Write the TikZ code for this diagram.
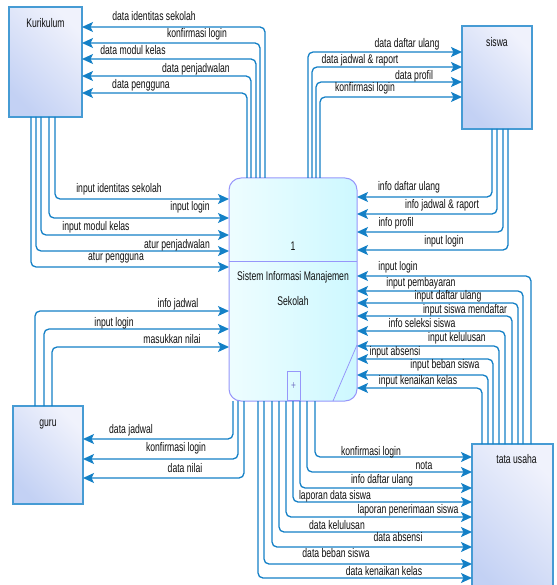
\documentclass[tikz,border=0pt]{standalone}
\usepackage{fontspec}
\setmainfont{Liberation Sans}[FakeStretch=0.69]
\usetikzlibrary{calc,arrows.meta}

\definecolor{flowblue}{RGB}{20,128,198}
\definecolor{entline}{RGB}{70,155,212}
\definecolor{entdark}{RGB}{195,209,244}
\definecolor{entlight}{RGB}{240,242,252}
\definecolor{procline}{RGB}{150,150,250}
\definecolor{proclight}{RGB}{238,253,255}
\definecolor{procdark}{RGB}{205,248,255}
\definecolor{txt}{RGB}{15,15,15}

\begin{document}
\begin{tikzpicture}[x=1pt,y=-1pt,
  entity/.style={rectangle, draw=entline, line width=1.3pt, inner sep=0pt, outer sep=0pt,
    top color=entdark, bottom color=entlight, shading angle=135},
  process/.style={rectangle, rounded corners=12pt, draw=procline, line width=1pt,
    inner sep=0pt, outer sep=0pt, left color=proclight, right color=procdark},
  flow/.style={draw=flowblue, line width=1.3pt, rounded corners=5pt,
    -{Stealth[length=11pt,width=10pt,inset=2.5pt]}},
  lbl/.style={inner sep=0pt, text=txt, font=\fontsize{12.5pt}{13pt}\selectfont,
    text height=9pt, text depth=2pt},
  ttl/.style={lbl}]

\useasboundingbox (0,0) rectangle (556,585);
\clip (0,0) rectangle (556,585);

% external entities
\node[entity, minimum width=73pt, minimum height=110pt] (kur) at (45.5,62) {};
\node[entity, minimum width=70pt, minimum height=103pt] (siswa) at (497,77.5) {};
\node[entity, minimum width=70pt, minimum height=98pt] (guru) at (48,455) {};
\node[entity, minimum width=81pt, minimum height=156pt] (tu) at (512.5,522) {};

\node[ttl] (kurT) at ($(kur.north)+(0,17)$) {Kurikulum};
\node[ttl] (siswaT) at ($(siswa.north)+(0,17)$) {siswa};
\node[ttl] (guruT) at ($(guru.north)+(0,17)$) {guru};
\node[ttl] (tuT) at ($(tu.north)+(4,16)$) {tata usaha};

% the process
\node[process, minimum width=128pt, minimum height=223pt] (proc) at (293,289.5) {};
\draw[procline, line width=1pt] ($(proc.north west)+(0,83)$) -- ($(proc.north east)+(0,83)$);
\draw[procline, line width=0.8pt] ($(proc.south east)+(-24,0)$) -- ($(proc.north east)+(0,167)$);
\node[draw=procline, line width=0.8pt, minimum width=13pt, minimum height=29pt, inner sep=0pt,
  anchor=south, text=procline!80!black, font=\fontsize{12pt}{12pt}\selectfont] (plus) at ($(proc.south west)+(64.5,0)$) {+};
\node[lbl] (pnum) at ($(proc.north)+(0,69)$) {1};
\node[lbl] (pname) at ($(proc.north)+(0,99)$) {Sistem Informasi Manajemen};
\node[lbl] (pname2) at ($(proc.north)+(0,124)$) {Sekolah};

% process -> Kurikulum
\draw[flow] ($(proc.north west)+(36,0)$) |- ($(kur.north east)+(0,20)$);
\draw[flow] ($(proc.north west)+(31,0)$) |- ($(kur.north east)+(0,36)$);
\draw[flow] ($(proc.north west)+(27,0)$) |- ($(kur.north east)+(0,52)$);
\draw[flow] ($(proc.north west)+(22,0)$) |- ($(kur.north east)+(0,69)$);
\draw[flow] ($(proc.north west)+(18,0)$) |- ($(kur.north east)+(0,86)$);

% Kurikulum -> process
\draw[flow] ($(kur.south west)+(46,0)$) |- ($(proc.north west)+(0,21)$);
\draw[flow] ($(kur.south west)+(40,0)$) |- ($(proc.north west)+(0,40)$);
\draw[flow] ($(kur.south west)+(32,0)$) |- ($(proc.north west)+(0,57)$);
\draw[flow] ($(kur.south west)+(27,0)$) |- ($(proc.north west)+(0,73)$);
\draw[flow] ($(kur.south west)+(22,0)$) |- ($(proc.north west)+(0,89)$);

% process -> siswa
\draw[flow] ($(proc.north west)+(79,0)$) |- ($(siswa.north west)+(0,26)$);
\draw[flow] ($(proc.north west)+(83,0)$) |- ($(siswa.north west)+(0,41)$);
\draw[flow] ($(proc.north west)+(87,0)$) |- ($(siswa.north west)+(0,56)$);
\draw[flow] ($(proc.north west)+(91,0)$) |- ($(siswa.north west)+(0,71)$);

% siswa -> process
\draw[flow] ($(siswa.south west)+(30,0)$) |- ($(proc.north east)+(0,19)$);
\draw[flow] ($(siswa.south west)+(35,0)$) |- ($(proc.north east)+(0,36)$);
\draw[flow] ($(siswa.south west)+(41,0)$) |- ($(proc.north east)+(0,54)$);
\draw[flow] ($(siswa.south west)+(46,0)$) |- ($(proc.north east)+(0,72)$);

% guru -> process
\draw[flow] ($(guru.north west)+(22,0)$) |- ($(proc.north west)+(0,133)$);
\draw[flow] ($(guru.north west)+(31,0)$) |- ($(proc.north west)+(0,151)$);
\draw[flow] ($(guru.north west)+(39,0)$) |- ($(proc.north west)+(0,169)$);

% process -> guru
\draw[flow] ($(proc.south west)+(4,0)$) |- ($(guru.north east)+(0,33)$);
\draw[flow] ($(proc.south west)+(9,0)$) |- ($(guru.north east)+(0,53)$);
\draw[flow] ($(proc.south west)+(15,0)$) |- ($(guru.north east)+(0,72)$);

% tata usaha -> process
\draw[flow] ($(tu.north west)+(59,0)$) |- ($(proc.north east)+(0,98)$);
\draw[flow] ($(tu.north west)+(51,0)$) |- ($(proc.north east)+(0,113)$);
\draw[flow] ($(tu.north west)+(46,0)$) |- ($(proc.north east)+(0,125)$);
\draw[flow] ($(tu.north west)+(40,0)$) |- ($(proc.north east)+(0,138)$);
\draw[flow] ($(tu.north west)+(33,0)$) |- ($(proc.north east)+(0,153)$);
\draw[flow] ($(tu.north west)+(27,0)$) |- ($(proc.north east)+(0,168)$);
\draw[flow] ($(tu.north west)+(21,0)$) |- ($(proc.north east)+(0,181)$);
\draw[flow] ($(tu.north west)+(16,0)$) |- ($(proc.north east)+(0,197)$);
\draw[flow] ($(tu.north west)+(10,0)$) |- ($(proc.north east)+(0,210)$);

% process -> tata usaha
\draw[flow] ($(proc.south west)+(86,0)$) |- ($(tu.north west)+(0,13)$);
\draw[flow] ($(proc.south west)+(78,0)$) |- ($(tu.north west)+(0,28)$);
\draw[flow] ($(proc.south west)+(71,0)$) |- ($(tu.north west)+(0,44)$);
\draw[flow] ($(proc.south west)+(64,0)$) |- ($(tu.north west)+(0,58)$);
\draw[flow] ($(proc.south west)+(57,0)$) |- ($(tu.north west)+(0,73)$);
\draw[flow] ($(proc.south west)+(50,0)$) |- ($(tu.north west)+(0,88)$);
\draw[flow] ($(proc.south west)+(43,0)$) |- ($(tu.north west)+(0,103)$);
\draw[flow] ($(proc.south west)+(35,0)$) |- ($(tu.north west)+(0,120)$);
\draw[flow] ($(proc.south west)+(29,0)$) |- ($(tu.north west)+(0,134)$);

% flow labels: Kurikulum
\node[lbl] (k1) at (154,17) {data identitas sekolah};
\node[lbl] (k2) at (197,34) {konfirmasi login};
\node[lbl] (k3) at (133,51) {data modul kelas};
\node[lbl] (k4) at (196,69) {data penjadwalan};
\node[lbl] (k5) at (141,85) {data pengguna};
\node[lbl] (k6) at (119,189) {input identitas sekolah};
\node[lbl] (k7) at (190,207) {input login};
\node[lbl] (k8) at (96,227) {input modul kelas};
\node[lbl] (k9) at (177,245) {atur penjadwalan};
\node[lbl] (k10) at (116,257) {atur pengguna};

% flow labels: siswa
\node[lbl] (s1) at (407,44) {data daftar ulang};
\node[lbl] (s2) at (360,60) {data jadwal \& raport};
\node[lbl] (s3) at (414,76) {data profil};
\node[lbl] (s4) at (365,88) {konfirmasi login};
\node[lbl] (s5) at (409,187) {info daftar ulang};
\node[lbl] (s6) at (442,205) {info jadwal \& raport};
\node[lbl] (s7) at (396,223) {info profil};
\node[lbl] (s8) at (444,241) {input login};

% flow labels: guru
\node[lbl] (g1) at (178,304) {info jadwal};
\node[lbl] (g2) at (114,323) {input login};
\node[lbl] (g3) at (172,340) {masukkan nilai};
\node[lbl] (g4) at (131,430) {data jadwal};
\node[lbl] (g5) at (176,448) {konfirmasi login};
\node[lbl] (g6) at (185,469) {data nilai};

% flow labels: tata usaha
\node[lbl] (t1) at (398,267) {input login};
\node[lbl] (t2) at (421,283) {input pembayaran};
\node[lbl] (t3) at (448,296) {input daftar ulang};
\node[lbl] (t4) at (465,310) {input siswa mendaftar};
\node[lbl] (t5) at (422,324) {info seleksi siswa};
\node[lbl] (t6) at (457,338) {input kelulusan};
\node[lbl] (t7) at (395,352) {input absensi};
\node[lbl] (t8) at (445,365) {input beban siswa};
\node[lbl] (t9) at (418,381) {input kenaikan kelas};
\node[lbl] (t10) at (371,452) {konfirmasi login};
\node[lbl] (t11) at (424,466) {nota};
\node[lbl] (t12) at (382,480) {info daftar ulang};
\node[lbl] (t13) at (335,496) {laporan data siswa};
\node[lbl] (t14) at (408,510) {laporan penerimaan siswa};
\node[lbl] (t15) at (337,526) {data kelulusan};
\node[lbl] (t16) at (398,538) {data absensi};
\node[lbl] (t17) at (336,554) {data beban siswa};
\node[lbl] (t18) at (384,572) {data kenaikan kelas};
\end{tikzpicture}
\end{document}
